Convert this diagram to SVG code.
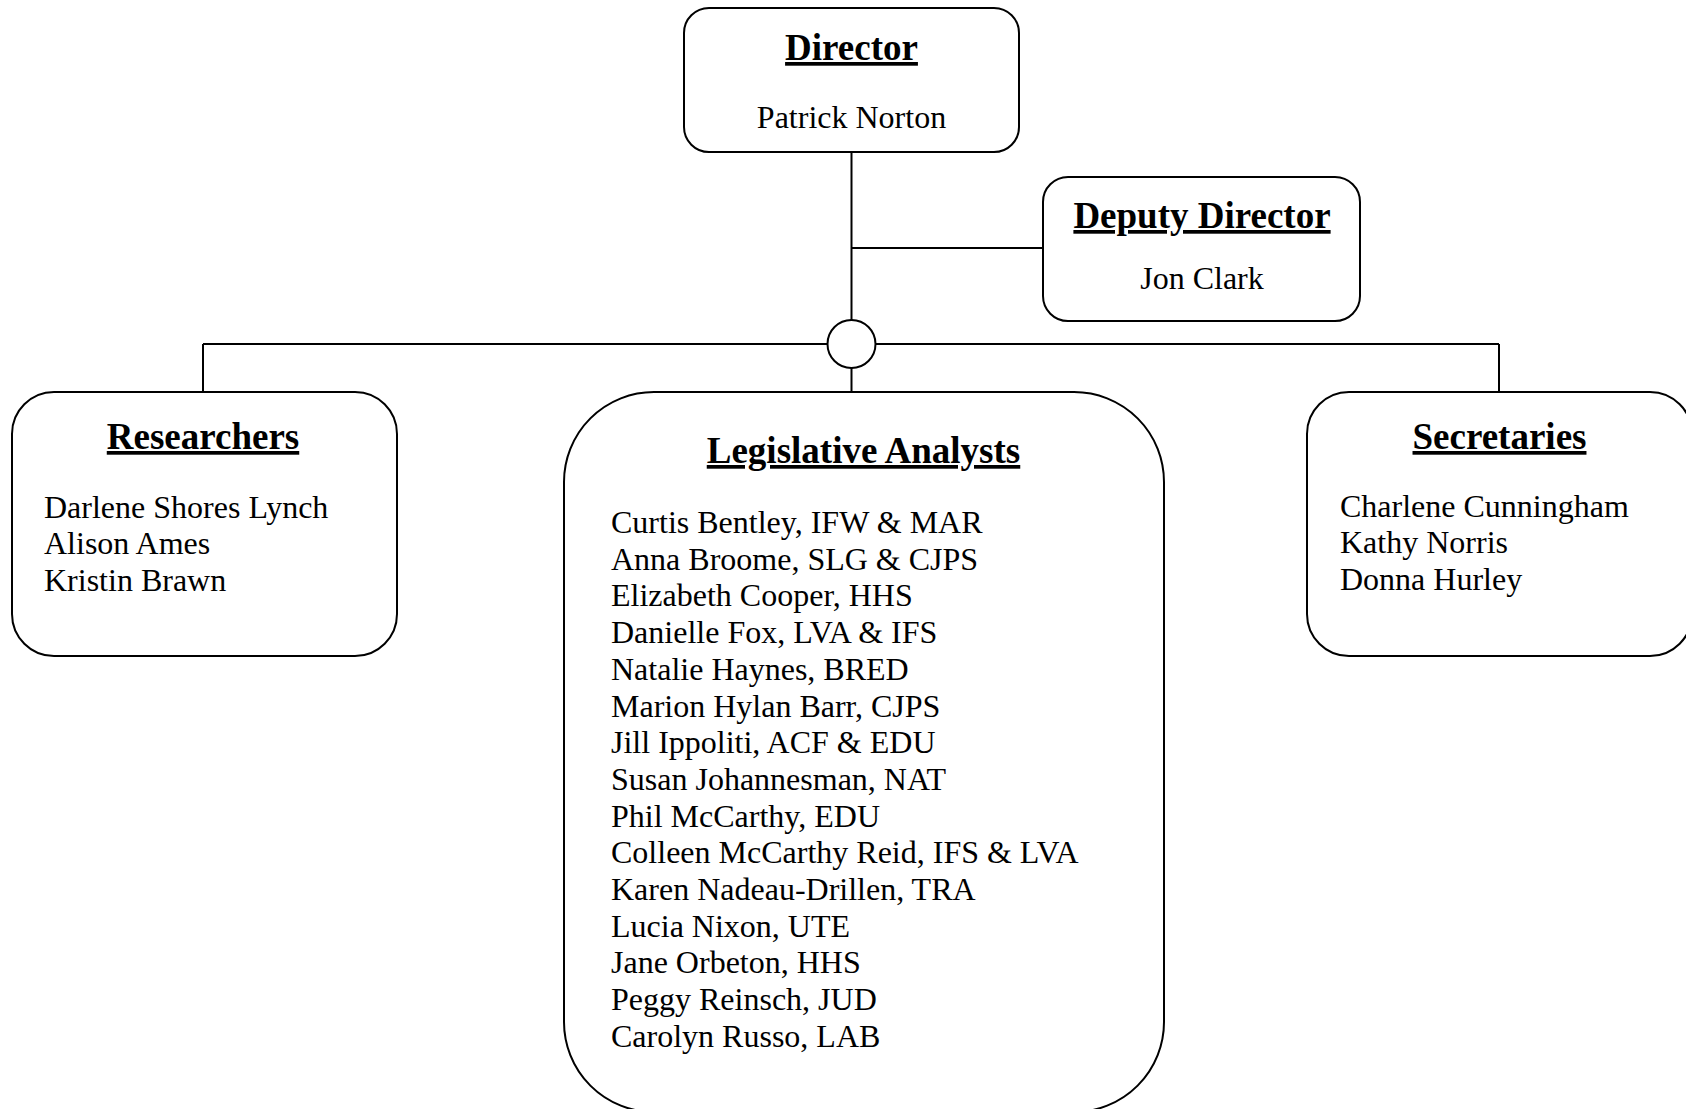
<svg xmlns="http://www.w3.org/2000/svg" width="1686" height="1109" viewBox="0 0 1686 1109">
<style>
.box{fill:#fff;stroke:#000;stroke-width:2}
.ln{fill:none;stroke:#000;stroke-width:2}
.t{font-family:"Liberation Serif","Times New Roman",serif;font-weight:bold;font-size:37px;text-decoration:underline;fill:#000;text-anchor:middle}
.b{font-family:"Liberation Serif","Times New Roman",serif;font-size:32px;fill:#000}
.c{text-anchor:middle}
</style>
<rect width="1686" height="1109" fill="#fff"/>
<g id="connectors">
<line class="ln" x1="851.5" y1="152" x2="851.5" y2="320"/>
<line class="ln" x1="851.5" y1="248" x2="1043" y2="248"/>
<line class="ln" x1="203" y1="344" x2="827.5" y2="344"/>
<line class="ln" x1="875.5" y1="344" x2="1499" y2="344"/>
<line class="ln" x1="203" y1="344" x2="203" y2="392"/>
<line class="ln" x1="1499" y1="344" x2="1499" y2="392"/>
<line class="ln" x1="851.5" y1="368" x2="851.5" y2="392"/>
<circle class="box" cx="851.5" cy="344" r="24"/>
</g>
<g id="director">
<rect class="box" x="684" y="8" width="335" height="144" rx="25"/>
<text class="t" x="851.5" y="60">Director</text>
<text class="b c" x="851.5" y="128">Patrick Norton</text>
</g>
<g id="deputy">
<rect class="box" x="1043" y="177" width="317" height="144" rx="25"/>
<text class="t" x="1202" y="228">Deputy Director</text>
<text class="b c" x="1202" y="289">Jon Clark</text>
</g>
<g id="researchers">
<rect class="box" x="12" y="392" width="385" height="264" rx="42"/>
<text class="t" x="203" y="449">Researchers</text>
<text class="b" x="44" y="518">Darlene Shores Lynch</text>
<text class="b" x="44" y="554">Alison Ames</text>
<text class="b" x="44" y="591">Kristin Brawn</text>
</g>
<g id="analysts">
<rect class="box" x="564" y="392" width="600" height="720" rx="90"/>
<text class="t" x="863.5" y="463">Legislative Analysts</text>
<text class="b" x="611">
<tspan x="611" y="533">Curtis Bentley, IFW &amp; MAR</tspan>
<tspan x="611" y="569.7">Anna Broome, SLG &amp; CJPS</tspan>
<tspan x="611" y="606.4">Elizabeth Cooper, HHS</tspan>
<tspan x="611" y="643.1">Danielle Fox, LVA &amp; IFS</tspan>
<tspan x="611" y="679.8">Natalie Haynes, BRED</tspan>
<tspan x="611" y="716.5">Marion Hylan Barr, CJPS</tspan>
<tspan x="611" y="753.2">Jill Ippoliti, ACF &amp; EDU</tspan>
<tspan x="611" y="789.9">Susan Johannesman, NAT</tspan>
<tspan x="611" y="826.6">Phil McCarthy, EDU</tspan>
<tspan x="611" y="863.3">Colleen McCarthy Reid, IFS &amp; LVA</tspan>
<tspan x="611" y="900">Karen Nadeau-Drillen, TRA</tspan>
<tspan x="611" y="936.7">Lucia Nixon, UTE</tspan>
<tspan x="611" y="973.4">Jane Orbeton, HHS</tspan>
<tspan x="611" y="1010.1">Peggy Reinsch, JUD</tspan>
<tspan x="611" y="1046.8">Carolyn Russo, LAB</tspan>
</text>
</g>
<g id="secretaries">
<rect class="box" x="1307" y="392" width="385" height="264" rx="42"/>
<text class="t" x="1499.5" y="449">Secretaries</text>
<text class="b" x="1340" y="517">Charlene Cunningham</text>
<text class="b" x="1340" y="553">Kathy Norris</text>
<text class="b" x="1340" y="590">Donna Hurley</text>
</g>
</svg>
